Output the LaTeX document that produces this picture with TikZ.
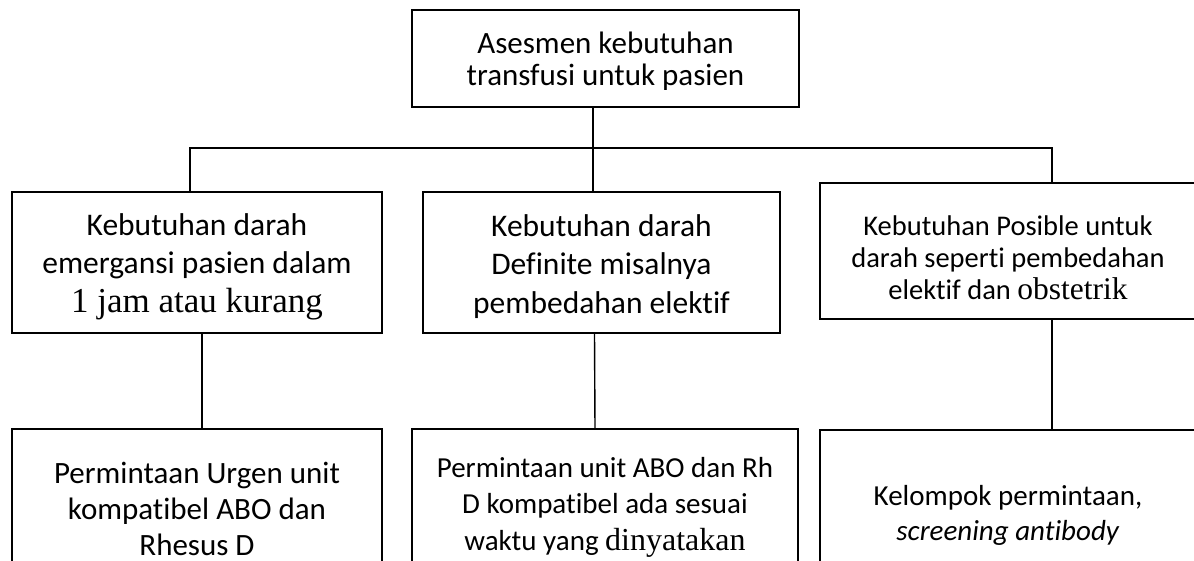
\documentclass[tikz,border=0pt]{standalone}
\usepackage{fontspec}
\setmainfont[Ligatures=NoCommon]{Carlito}
\newfontfamily\serifword{Liberation Serif}
\newcommand\fsz[2]{\fontsize{#1bp}{#2bp}\selectfont}
\newcommand\downgap[1]{\rule{0pt}{#1bp}}
\tikzset{box/.style={draw,rectangle,inner sep=0pt,align=center}}

\begin{document}
\begin{tikzpicture}[x=1bp,y=-1bp,line width=1.4bp]
  \useasboundingbox (0,0) rectangle (1194,561);
  % top and middle row
  \node[box,minimum width=387bp,minimum height=97bp,font=\fsz{31}{32}] (ask) at (605.5,58.5) {\downgap{28}Asesmen kebutuhan\\transfusi untuk pasien};
  \node[box,minimum width=370bp,minimum height=141bp,font=\fsz{31.5}{38.5}] (emerg) at (197,262.5) {\downgap{30}Kebutuhan darah\\emergansi pasien dalam\\{\serifword\fsz{35}{38.5}1 jam atau kurang}};
  \node[box,minimum width=357bp,minimum height=141bp,font=\fsz{31.5}{38.5}] (defin) at (601.5,262.5) {\downgap{30}Kebutuhan darah\\Definite misalnya\\pembedahan elektif};
  \node[box,minimum width=376bp,minimum height=136bp,font=\fsz{28.5}{32}] (posib) at (1008,251) {\downgap{33}Kebutuhan Posible untuk\\darah seperti pembedahan\\elektif dan {\serifword\fsz{31.5}{32}obstetrik}};
  % bottom row, cut by the page edge
  \node[box,minimum width=370bp,minimum height=160bp,font=\fsz{31}{36}] (urgen) at (197,509) {Permintaan Urgen unit\\kompatibel ABO dan\\Rhesus D};
  \node[box,minimum width=386bp,minimum height=156bp,font=\fsz{29}{36.5}] (abo) at (605,507) {Permintaan unit ABO dan Rh\\D kompatibel ada sesuai\\waktu yang {\serifword\fsz{32}{36.5}dinyatakan}};
  \node[box,minimum width=376bp,minimum height=170bp,font=\fsz{29}{35}] (kelompok) at (1008,515) {Kelompok permintaan,\\\textit{screening antibody}};
  % connectors
  \coordinate (busL) at (190,148); \coordinate (busM) at (593,148); \coordinate (busR) at (1052,148);
  \draw (busL |- emerg.north) -- (busL) -- (busR) -- (busR |- posib.north);
  \draw (ask.south -| busM) -- (defin.north -| busM);
  \draw ([xshift=5bp]emerg.south) -- ([xshift=5bp]urgen.north);
  \draw ([xshift=-7bp]defin.south) -- ([xshift=-10bp]abo.north);
  \draw (posib.south -| busR) -- (kelompok.north -| busR);
\end{tikzpicture}
\end{document}
